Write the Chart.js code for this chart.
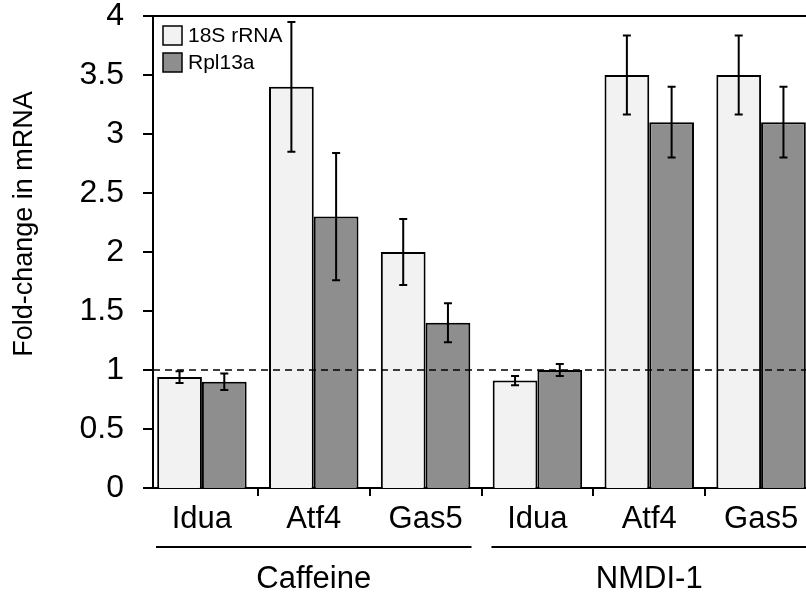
<!DOCTYPE html>
<html>
<head>
<meta charset="utf-8">
<script src="https://cdn.jsdelivr.net/npm/chart.js@4/dist/chart.umd.min.js"></script>
<style>
  html, body { margin: 0; padding: 0; background: #fff; overflow: hidden; }
  #wrap { width: 806px; height: 599px; overflow: hidden; }
</style>
</head>
<body>
<div id="wrap"><canvas id="c" width="830" height="599"></canvas></div>
<script>
// values
let categories = ['Idua', 'Atf4', 'Gas5', 'Idua', 'Atf4', 'Gas5'];
let rrna18s = [0.94, 3.40, 2.00, 0.91, 3.50, 3.50];
let rrna18sErr = [0.05, 0.55, 0.28, 0.04, 0.335, 0.335];
let rpl13a = [0.90, 2.30, 1.40, 1.00, 3.10, 3.10];
let rpl13aErr = [0.07, 0.54, 0.165, 0.05, 0.30, 0.30];
let groupNames = ['Caffeine', 'NMDI-1'];
let groupStarts = [0, 3];
let groupEnds = [2, 5];
let yTicks = [0, 0.5, 1, 1.5, 2, 2.5, 3, 3.5, 4];
let refLine = 1;

let fontFam = '"Liberation Sans", Arial, sans-serif';
let lightColor = '#f2f2f2';
let darkColor = '#8e8e8e';
let errs = [rrna18sErr, rpl13aErr];

// y axis sits a few px inside the category range, so draw it by hand
let axisX = 153;

let extras = {
  id: 'extras',
  afterDatasetsDraw(chart) {
    let ctx = chart.ctx;
    let area = chart.chartArea;
    let y = chart.scales.y;

    // dashed reference line
    ctx.save();
    ctx.strokeStyle = '#000';
    ctx.lineWidth = 1.5;
    ctx.setLineDash([7, 5]);
    ctx.beginPath();
    ctx.moveTo(axisX, y.getPixelForValue(refLine));
    ctx.lineTo(area.right, y.getPixelForValue(refLine));
    ctx.stroke();
    ctx.restore();

    // error bars
    ctx.save();
    ctx.strokeStyle = '#000';
    ctx.lineWidth = 2;
    chart.data.datasets.forEach((ds, di) => {
      let meta = chart.getDatasetMeta(di);
      meta.data.forEach((bar, i) => {
        let top = y.getPixelForValue(ds.data[i] + errs[di][i]);
        let bot = y.getPixelForValue(ds.data[i] - errs[di][i]);
        ctx.beginPath();
        ctx.moveTo(bar.x, top); ctx.lineTo(bar.x, bot);
        ctx.moveTo(bar.x - 4, top); ctx.lineTo(bar.x + 4, top);
        ctx.moveTo(bar.x - 4, bot); ctx.lineTo(bar.x + 4, bot);
        ctx.stroke();
      });
    });
    ctx.restore();
  },
  afterDraw(chart) {
    let ctx = chart.ctx;
    let y = chart.scales.y;
    let x = chart.scales.x;
    let yTop = Math.round(y.getPixelForValue(yTicks[yTicks.length - 1]));
    let yBot = y.getPixelForValue(yTicks[0]);

    ctx.save();
    ctx.fillStyle = '#000';
    // top frame line
    ctx.fillRect(axisX - 1, yTop - 1, 900, 2);

    ctx.strokeStyle = '#000';
    ctx.lineWidth = 2;
    // y axis line + ticks
    ctx.beginPath();
    ctx.moveTo(axisX, yTop);
    ctx.lineTo(axisX, yBot);
    yTicks.forEach(v => {
      let py = y.getPixelForValue(v);
      ctx.moveTo(axisX - 10, py);
      ctx.lineTo(axisX, py);
    });
    ctx.stroke();

    // group lines + names
    let half = (x.getPixelForValue(1) - x.getPixelForValue(0)) / 2;
    ctx.font = '31px ' + fontFam;
    ctx.textAlign = 'center';
    ctx.textBaseline = 'middle';
    groupNames.forEach((name, g) => {
      let x0 = x.getPixelForValue(groupStarts[g]) - half + 10;
      let x1 = x.getPixelForValue(groupEnds[g]) + half - 10;
      ctx.beginPath();
      ctx.moveTo(x0, 547);
      ctx.lineTo(x1, 547);
      ctx.stroke();
      ctx.fillText(name, (x0 + x1) / 2, 579);
    });

    // y title
    ctx.save();
    ctx.translate(25, 224);
    ctx.rotate(-Math.PI / 2);
    ctx.font = '27px ' + fontFam;
    ctx.fillText('Fold-change in mRNA', 0, 0);
    ctx.restore();

    // legend
    ctx.font = '21px ' + fontFam;
    ctx.textAlign = 'left';
    ctx.lineWidth = 1.5;
    chart.data.datasets.forEach((ds, i) => {
      let ly = 26 + i * 27;
      ctx.fillStyle = ds.backgroundColor;
      ctx.fillRect(163, ly, 19, 19);
      ctx.strokeRect(163, ly, 19, 19);
      ctx.fillStyle = '#000';
      ctx.fillText(ds.label, 188, ly + 10);
    });
    ctx.restore();
  }
};

new Chart(document.getElementById('c'), {
  type: 'bar',
  data: {
    labels: categories,
    datasets: [
      { label: '18S rRNA', data: rrna18s, backgroundColor: lightColor, borderColor: '#000', borderWidth: 2 },
      { label: 'Rpl13a', data: rpl13a, backgroundColor: darkColor, borderColor: '#000', borderWidth: 2 }
    ]
  },
  options: {
    responsive: false,
    animation: false,
    devicePixelRatio: 1,
    layout: { padding: { top: 16, right: 13, left: 0, bottom: 0 } },
    plugins: { legend: { display: false }, tooltip: { enabled: false } },
    datasets: { bar: { categoryPercentage: 0.8, barPercentage: 1.0 } },
    scales: {
      x: {
        afterFit: s => { s.height = 111; s.paddingLeft = 0; s.paddingRight = 0; },
        grid: {
          display: true, offset: true, drawOnChartArea: false, drawTicks: true, tickLength: 8,
          lineWidth: 2,
          color: c => (c.index === 0 ? 'rgba(0,0,0,0)' : '#000')
        },
        border: { display: true, color: '#000', width: 2 },
        ticks: { color: '#000', padding: 5, font: { family: fontFam, size: 31 }, maxRotation: 0 }
      },
      y: {
        min: 0, max: 4,
        afterFit: s => { s.width = 146; s.paddingTop = 0; s.paddingBottom = 0; },
        grid: { display: false },
        border: { display: false },
        ticks: {
          stepSize: 0.5, color: '#000', padding: 14,
          font: { family: fontFam, size: 32 },
          callback: v => String(v)
        }
      }
    }
  },
  plugins: [extras]
});
</script>
</body>
</html>
